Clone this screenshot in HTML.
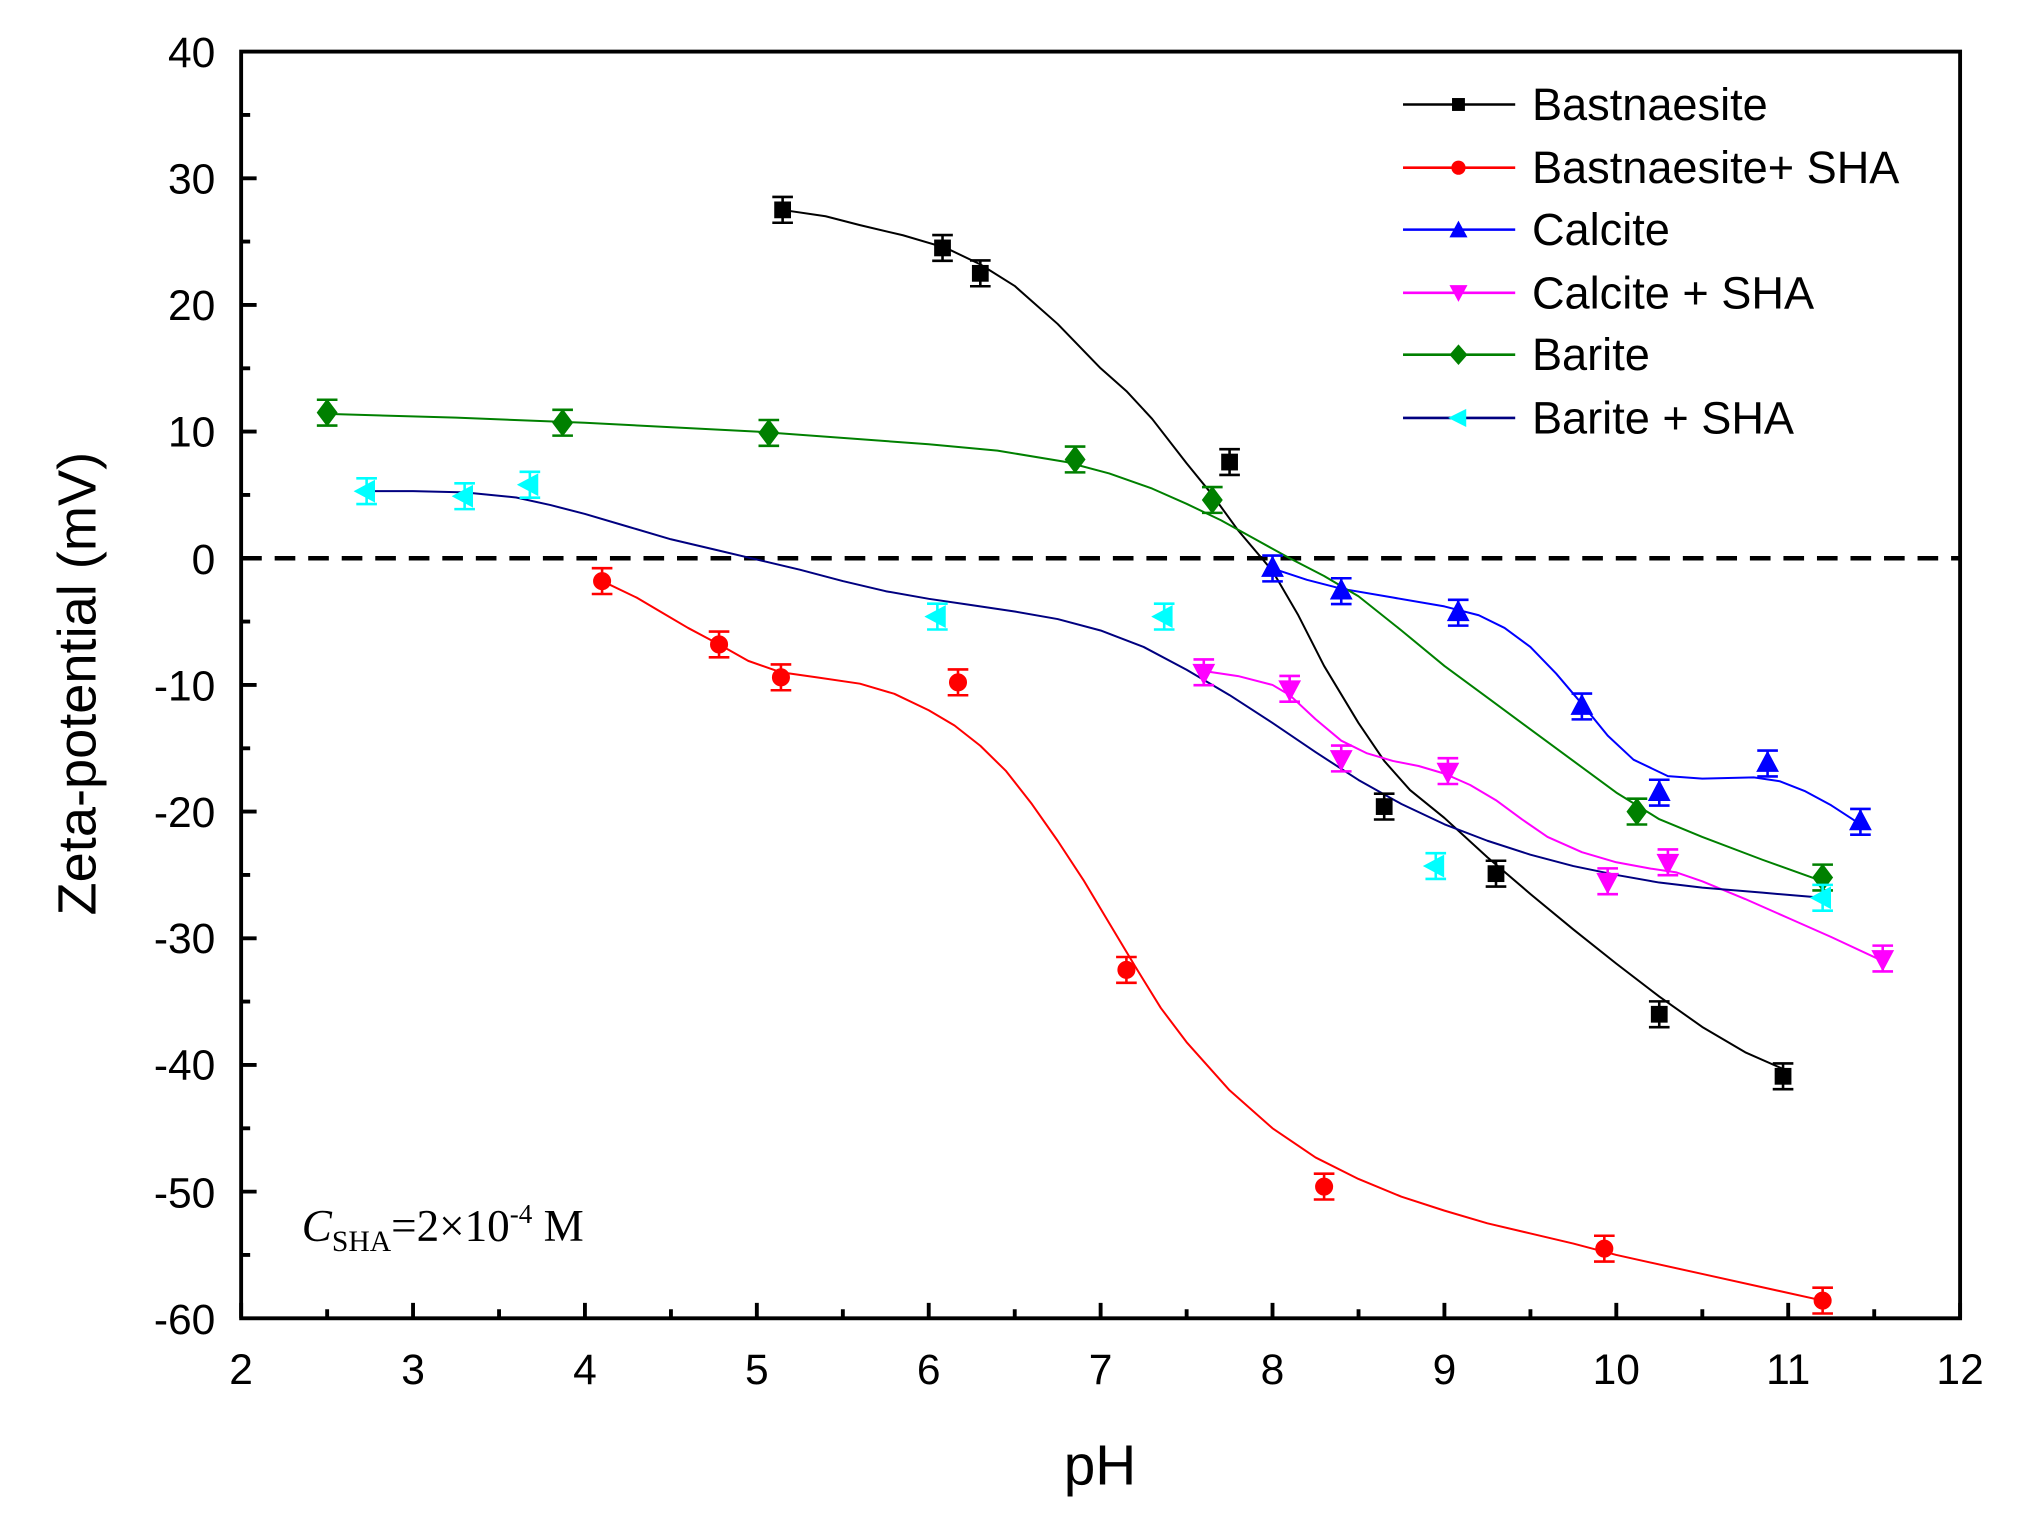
<!DOCTYPE html>
<html><head><meta charset="utf-8"><style>html,body{margin:0;padding:0;background:#fff}svg{display:block}</style></head>
<body>
<svg width="2022" height="1535" viewBox="0 0 1568 1190" preserveAspectRatio="none" xmlns="http://www.w3.org/2000/svg" font-family="Liberation Sans, Arial, sans-serif">
<defs>
<g id="eb"><path d="M-8 -10h16M0 -10v20M-8 10h16" stroke-width="2" fill="none"/></g>
<g id="sq"><use href="#eb"/><rect x="-6" y="-6" width="12" height="12"/></g>
<g id="ci"><use href="#eb"/><circle r="6.5"/></g>
<g id="tu"><use href="#eb"/><path d="M0 -9L8 6H-8Z"/></g>
<g id="td"><use href="#eb"/><path d="M0 9L8 -6H-8Z"/></g>
<g id="di"><use href="#eb"/><path d="M0 -10L7.5 0L0 10L-7.5 0Z"/></g>
<g id="tl"><use href="#eb"/><path d="M-9 0L6 -8V8Z"/></g>
</defs>
<rect width="1568" height="1190" fill="#fff"/>
<line x1="187" y1="432.8" x2="1520" y2="432.8" stroke="#000" stroke-width="3.5" stroke-dasharray="16,10"/>
<g transform="matrix(133.3 0 0 -9.82 -79.6 432.8)" fill="none" stroke-width="2" stroke-linejoin="round">
<polyline vector-effect="non-scaling-stroke" stroke="#000" points="5.15,27.5 5.4,27 5.6,26.3 5.85,25.5 6.1,24.5 6.3,23.2 6.5,21.5 6.75,18.5 7,15 7.15,13.2 7.3,11 7.5,7.5 7.65,5 7.8,2.2 8,-1 8.15,-4.5 8.3,-8.5 8.5,-13 8.65,-16 8.8,-18.3 9,-20.5 9.25,-23.6 9.5,-26.5 9.75,-29.3 10,-32 10.25,-34.6 10.5,-37 10.75,-39 11,-40.5"/>
<polyline vector-effect="non-scaling-stroke" stroke="#ff0000" points="4.1,-1.8 4.3,-3.1 4.45,-4.3 4.6,-5.5 4.78,-6.8 4.95,-8.1 5.14,-9 5.35,-9.4 5.6,-9.9 5.8,-10.7 6,-12 6.15,-13.2 6.3,-14.8 6.45,-16.8 6.6,-19.4 6.75,-22.3 6.9,-25.4 7.05,-28.8 7.2,-32.2 7.35,-35.5 7.5,-38.2 7.75,-42 8,-45 8.25,-47.3 8.5,-49 8.75,-50.4 9,-51.5 9.25,-52.5 9.5,-53.3 9.75,-54.1 10,-55 10.5,-56.5 11.2,-58.6"/>
<polyline vector-effect="non-scaling-stroke" stroke="#0000ff" points="8,-0.8 8.2,-1.7 8.4,-2.4 8.7,-3.1 9,-3.8 9.2,-4.5 9.35,-5.5 9.5,-7 9.65,-9.1 9.8,-11.5 9.95,-14 10.1,-15.9 10.3,-17.2 10.5,-17.4 10.8,-17.3 10.95,-17.6 11.1,-18.4 11.25,-19.5 11.42,-21"/>
<polyline vector-effect="non-scaling-stroke" stroke="#ff00ff" points="7.6,-8.9 7.8,-9.3 8,-10 8.1,-10.8 8.25,-12.7 8.4,-14.4 8.55,-15.4 8.7,-16 8.85,-16.4 9,-17 9.15,-17.9 9.3,-19.1 9.45,-20.6 9.6,-22 9.8,-23.2 10,-24 10.2,-24.5 10.35,-24.8 10.5,-25.5 10.75,-26.9 11,-28.4 11.25,-29.9 11.55,-31.8"/>
<polyline vector-effect="non-scaling-stroke" stroke="#008000" points="2.5,11.4 3.25,11.1 4,10.7 5,10 6,9 6.4,8.5 6.8,7.6 7.05,6.7 7.3,5.5 7.5,4.3 7.7,3 7.9,1.5 8.1,0 8.3,-1.4 8.5,-3 8.75,-5.7 9,-8.5 9.25,-11 9.5,-13.5 9.75,-16 10,-18.5 10.25,-20.6 10.5,-22 10.85,-23.8 11.2,-25.5"/>
<polyline vector-effect="non-scaling-stroke" stroke="#000080" points="2.73,5.3 3,5.3 3.3,5.2 3.6,4.8 3.8,4.2 4,3.5 4.25,2.5 4.5,1.5 4.75,0.7 5,-0.1 5.25,-0.9 5.5,-1.8 5.75,-2.6 6,-3.2 6.25,-3.7 6.5,-4.2 6.75,-4.8 7,-5.7 7.25,-7 7.5,-8.8 7.75,-10.8 8,-13 8.25,-15.3 8.5,-17.5 8.75,-19.4 9,-21 9.25,-22.3 9.5,-23.4 9.75,-24.3 10,-25 10.25,-25.6 10.5,-26 10.85,-26.4 11.2,-26.8"/>
</g>
<g fill="#000" stroke="#000">
<use href="#sq" x="606.9" y="162.7"/><use href="#sq" x="730.9" y="192.2"/><use href="#sq" x="760.2" y="211.9"/><use href="#sq" x="953.5" y="358.2"/><use href="#sq" x="1073.4" y="625.3"/><use href="#sq" x="1160.1" y="677.3"/><use href="#sq" x="1286.7" y="786.3"/><use href="#sq" x="1382.7" y="834.4"/>
</g>
<g fill="#ff0000" stroke="#ff0000">
<use href="#ci" x="466.9" y="450.5"/><use href="#ci" x="557.6" y="499.6"/><use href="#ci" x="605.6" y="525.1"/><use href="#ci" x="742.9" y="529"/><use href="#ci" x="873.5" y="751.9"/><use href="#ci" x="1026.8" y="919.9"/><use href="#ci" x="1244.1" y="968"/><use href="#ci" x="1413.4" y="1008.3"/>
</g>
<g fill="#0000ff" stroke="#0000ff">
<use href="#tu" x="986.8" y="440.7"/><use href="#tu" x="1040.1" y="458.3"/><use href="#tu" x="1130.8" y="475"/><use href="#tu" x="1226.7" y="547.7"/><use href="#tu" x="1286.7" y="614.5"/><use href="#tu" x="1370.7" y="591.9"/><use href="#tu" x="1442.7" y="637.1"/>
</g>
<g fill="#ff00ff" stroke="#ff00ff">
<use href="#td" x="933.5" y="521.2"/><use href="#td" x="1000.1" y="534"/><use href="#td" x="1040.1" y="588"/><use href="#td" x="1122.8" y="597.8"/><use href="#td" x="1246.7" y="683.2"/><use href="#td" x="1293.4" y="668.5"/><use href="#td" x="1460" y="743.1"/>
</g>
<g fill="#008000" stroke="#008000">
<use href="#di" x="253.7" y="319.9"/><use href="#di" x="436.3" y="327.7"/><use href="#di" x="596.2" y="335.6"/><use href="#di" x="833.7" y="356.2"/><use href="#di" x="940.1" y="387.6"/><use href="#di" x="1269.4" y="629.2"/><use href="#di" x="1413.4" y="680.3"/>
</g>
<g fill="#00ffff" stroke="#00ffff">
<use href="#tl" x="284.3" y="380.8"/><use href="#tl" x="360.3" y="384.7"/><use href="#tl" x="410.9" y="375.8"/><use href="#tl" x="726.9" y="478"/><use href="#tl" x="902.8" y="478"/><use href="#tl" x="1113.4" y="671.4"/><use href="#tl" x="1413.4" y="696"/>
</g>
<rect x="187" y="40" width="1333" height="982" fill="none" stroke="#000" stroke-width="3"/>
<path stroke="#000" stroke-width="3" fill="none" d="M187 1022v-12M320.3 1022v-12M453.6 1022v-12M586.9 1022v-12M720.2 1022v-12M853.5 1022v-12M986.8 1022v-12M1120.1 1022v-12M1253.4 1022v-12M1386.7 1022v-12M1520 1022v-12
M253.7 1022v-7M387 1022v-7M520.3 1022v-7M653.6 1022v-7M786.9 1022v-7M920.2 1022v-7M1053.5 1022v-7M1186.8 1022v-7M1320.1 1022v-7M1453.4 1022v-7"/>
<path stroke="#000" stroke-width="3" fill="none" d="M187 138.2h12M187 236.4h12M187 334.6h12M187 432.8h12M187 531h12M187 629.2h12M187 727.4h12M187 825.6h12M187 923.8h12
M187 89.1h7M187 187.3h7M187 285.5h7M187 383.7h7M187 481.9h7M187 580.1h7M187 678.3h7M187 776.5h7M187 874.7h7M187 972.9h7"/>
<g font-size="33" text-anchor="middle" fill="#000">
<text x="187" y="1073">2</text><text x="320.3" y="1073">3</text><text x="453.6" y="1073">4</text><text x="586.9" y="1073">5</text><text x="720.2" y="1073">6</text><text x="853.5" y="1073">7</text><text x="986.8" y="1073">8</text><text x="1120.1" y="1073">9</text><text x="1253.4" y="1073">10</text><text x="1386.7" y="1073">11</text><text x="1520" y="1073">12</text>
</g>
<g font-size="33" text-anchor="end" fill="#000">
<text x="167" y="52">40</text><text x="167" y="150">30</text><text x="167" y="248">20</text><text x="167" y="346">10</text><text x="167" y="445">0</text><text x="167" y="543">-10</text><text x="167" y="641">-20</text><text x="167" y="739">-30</text><text x="167" y="837">-40</text><text x="167" y="936">-50</text><text x="167" y="1034">-60</text>
</g>
<text x="853" y="1151" font-size="44" text-anchor="middle">pH</text>
<text transform="translate(74,530) rotate(-90)" font-size="42" text-anchor="middle">Zeta-potential (mV)</text>
<text x="234" y="962" font-family="Liberation Serif, serif" font-size="35"><tspan font-style="italic">C</tspan><tspan font-size="23" dy="8">SHA</tspan><tspan dy="-8">=2×10</tspan><tspan font-size="21" dy="-14">-4</tspan><tspan dy="14"> M</tspan></text>
<g stroke-width="2">
<line x1="1088" y1="81" x2="1175" y2="81" stroke="#000"/>
<line x1="1088" y1="130" x2="1175" y2="130" stroke="#ff0000"/>
<line x1="1088" y1="178" x2="1175" y2="178" stroke="#0000ff"/>
<line x1="1088" y1="227" x2="1175" y2="227" stroke="#ff00ff"/>
<line x1="1088" y1="275" x2="1175" y2="275" stroke="#008000"/>
<line x1="1088" y1="324" x2="1175" y2="324" stroke="#000080"/>
</g>
<rect x="1126" y="76" width="10" height="10" fill="#000"/>
<circle cx="1131" cy="130" r="5.5" fill="#ff0000"/>
<path d="M1131 171L1138 184H1124Z" fill="#0000ff"/>
<path d="M1131 234L1138 221H1124Z" fill="#ff00ff"/>
<path d="M1131 267L1138 275L1131 283L1124 275Z" fill="#008000"/>
<path d="M1123 324L1137 317V331Z" fill="#00ffff"/>
<g font-size="35" fill="#000">
<text x="1188" y="93">Bastnaesite</text>
<text x="1188" y="142">Bastnaesite+ SHA</text>
<text x="1188" y="190">Calcite</text>
<text x="1188" y="239">Calcite + SHA</text>
<text x="1188" y="287">Barite</text>
<text x="1188" y="336">Barite + SHA</text>
</g>
</svg>
</body></html>
